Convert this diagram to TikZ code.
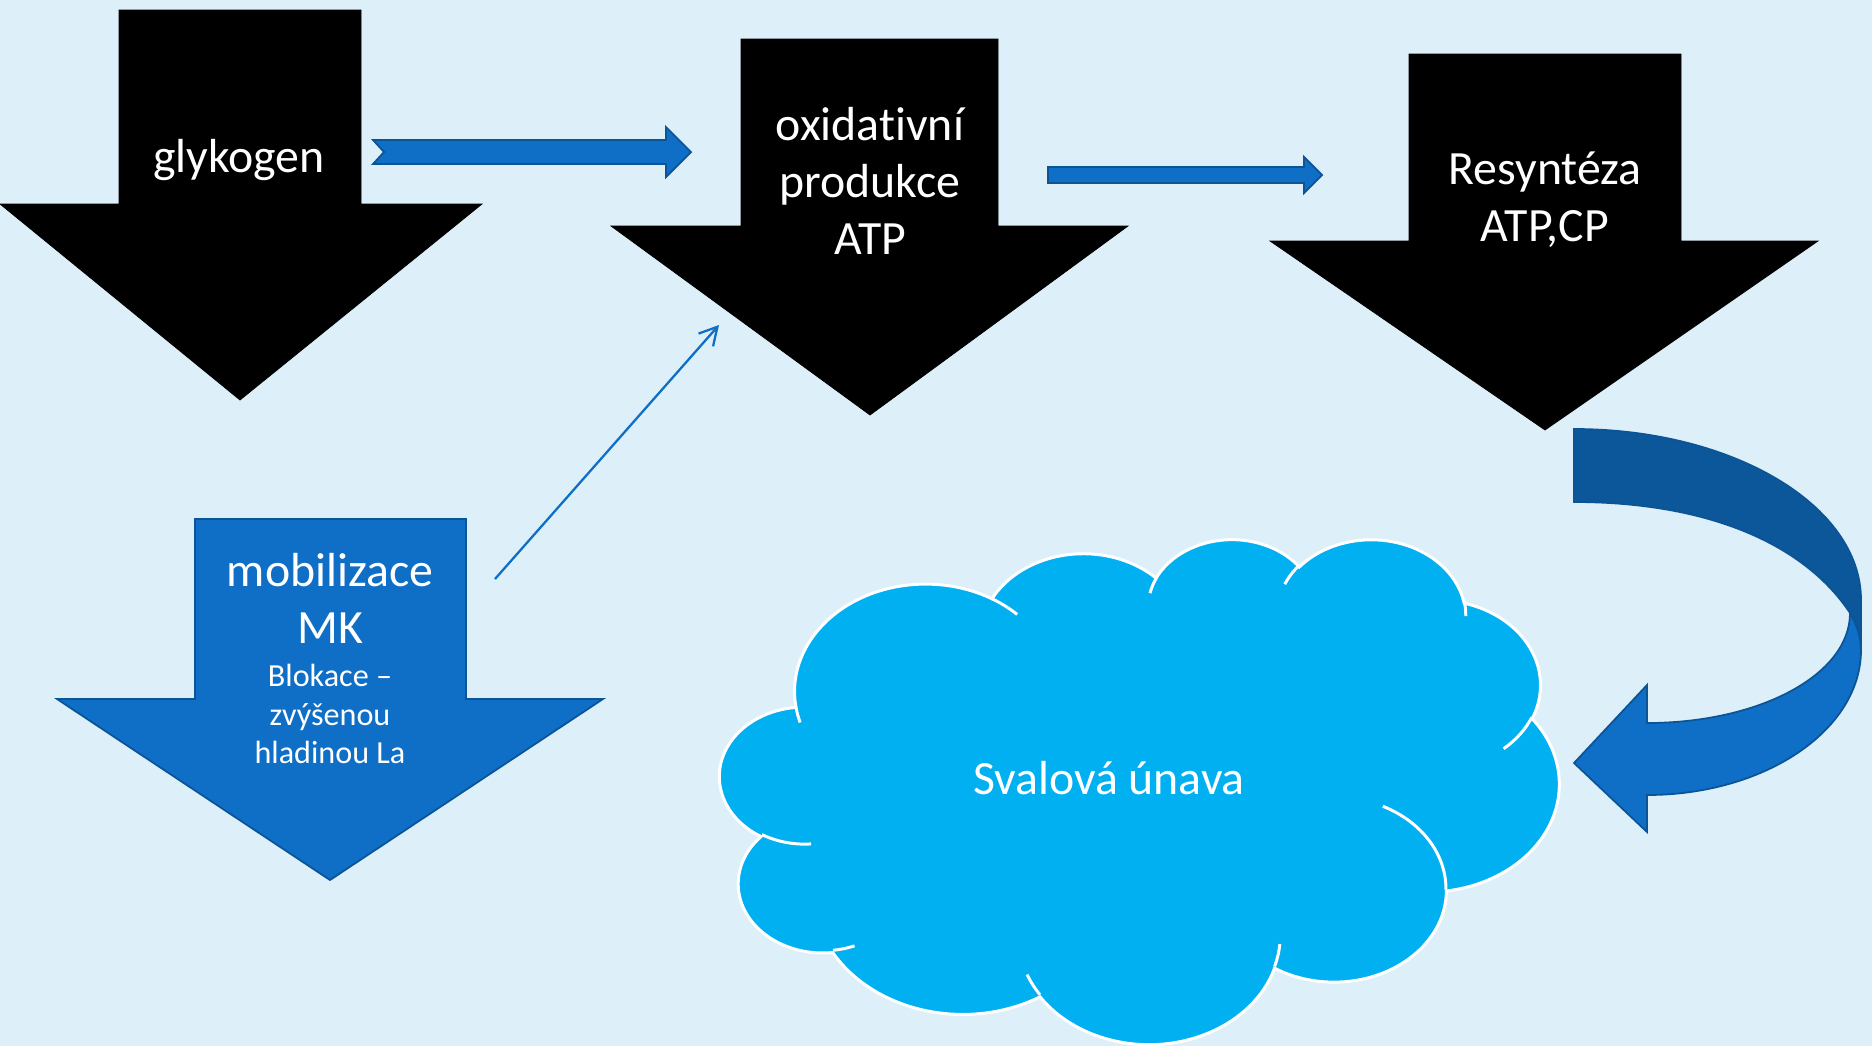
\documentclass[tikz,border=0pt]{standalone}
\usepackage{fontspec}
\setmainfont{Carlito}[Ligatures=NoCommon]
\usetikzlibrary{arrows.meta}
\definecolor{bgc}{RGB}{221,239,248}
\definecolor{accblue}{RGB}{15,111,198}
\definecolor{accline}{RGB}{11,84,150}
\definecolor{darkband}{RGB}{12,86,154}
\definecolor{cloudc}{RGB}{0,176,240}
\tikzset{
  blackarrow/.style={fill=black, draw=black, line width=0.4pt, line join=miter},
  bluearrow/.style={fill=accblue, draw=accline, line width=1pt, line join=miter},
  darkarrow/.style={fill=darkband, draw=accline, line width=1pt, line join=miter},
  bigtext/.style={text=white, font=\fontsize{27.2}{32.4}\selectfont, align=center, inner sep=0pt},
  smalltext/.style={text=white, font=\fontsize{18.3}{21.7}\selectfont, align=center, inner sep=0pt},
  cloudline/.style={draw=white, line width=1.7pt},
  thinarrow/.style={draw=accblue, line width=1.3pt, -{Straight Barb[length=10pt,width=11pt]}},
}
\newcommand{\ca}[4]{arc[start angle={atan2(#1*sin(#3),#2*cos(#3))}, delta angle={mod(atan2(#1*sin(#3+#4),#2*cos(#3+#4))-atan2(#1*sin(#3),#2*cos(#3))+720,360)}, x radius=#1, y radius=#2]}
\begin{document}
\begin{tikzpicture}[x=0.02cm,y=-0.02cm]
\fill[bgc] (0,0) rectangle (1872,1046);
\useasboundingbox (0,0) rectangle (1872,1046);

% black down arrows
\path[blackarrow] (119,10) -- (361,10) -- (361,204) -- (482,204) -- (240,400) -- (0,204) -- (119,204) -- cycle;
\path[blackarrow] (741,39) -- (998,39) -- (998,226) -- (1128,226) -- (870,415) -- (611,226) -- (741,226) -- cycle;
\path[blackarrow] (1409,54) -- (1681,54) -- (1681,241) -- (1818,241) -- (1545,430) -- (1270,241) -- (1409,241) -- cycle;

% blue down arrow
\path[bluearrow] (195,519) -- (466,519) -- (466,699) -- (603,699) -- (330,880) -- (57,699) -- (195,699) -- cycle;

% horizontal blue arrows
\path[bluearrow] (373,140) -- (666,140) -- (666,127) -- (691,152) -- (666,177) -- (666,164) -- (373,164) -- (384,152) -- cycle;
\path[bluearrow] (1048,167) -- (1304,167) -- (1304,157) -- (1322,175) -- (1304,193) -- (1304,183) -- (1048,183) -- cycle;

% curved arrow
\path[darkarrow] (1574,429) .. controls (1732,429) and (1861,505) .. (1861,600) -- (1861,650)
  .. controls (1861,638) and (1857,625) .. (1850,613)
  .. controls (1805,545) and (1710,502) .. (1574,502) -- cycle;
\path[bluearrow] (1850,613) .. controls (1857,625) and (1861,638) .. (1861,650)
  .. controls (1861,730) and (1765,795) .. (1647,795) -- (1647,832) -- (1574,763) -- (1647,685) -- (1647,723)
  .. controls (1759,723) and (1850,675) .. (1850,613) -- cycle;

% thin arrow
\coordinate (thinS) at (495,579);
\coordinate (thinE) at (719,325);
\draw[thinarrow] (thinS) -- (thinE);

% cloud
\begin{scope}[shift={(720,538)}, x=0.038843cm, y=-0.023380cm]
\path[fill=cloudc, cloudline] (39.00,143.70)
  \ca{67.53}{91.90}{-190.4875}{123.7805}
  \ca{53.33}{72.67}{-144.1024}{89.9452}
  \ca{43.65}{59.45}{-145.8079}{99.7230}
  \ca{48.57}{65.95}{-130.9861}{117.2417}
  \ca{53.33}{72.73}{-78.7089}{109.0269}
  \ca{67.75}{92.20}{-46.2673}{130.2690}
  \ca{57.85}{78.67}{0.6250}{114.0333}
  \ca{67.52}{92.15}{22.4516}{115.1726}
  \ca{77.20}{105.43}{66.2426}{75.7110}
  \ca{43.60}{59.18}{-274.9421}{146.7356}
  \ca{43.45}{59.45}{-246.8285}{152.5189}
  -- cycle;
\draw[cloudline] (46.93,261.77) \ca{43.45}{59.45}{86.7420}{26.4295}
  (69.28,348.99) \ca{43.60}{59.18}{73.6105}{11.4475}
  (164.78,390.90) \ca{67.52}{92.15}{137.6242}{14.0811}
  (288.27,347.51) \ca{67.52}{92.15}{6.4533}{15.9984}
  (341.29,229.54) \ca{57.85}{78.67}{-70.2924}{70.9174}
  (417.98,153.54) \ca{53.33}{72.73}{30.3180}{27.7515}
  (383.24,54.26) \ca{48.57}{65.95}{-13.7443}{14.8589}
  (290.78,39.52) \ca{48.57}{65.95}{-149.1815}{18.1954}
  (221.41,47.20) \ca{43.65}{59.45}{-163.4943}{17.6872}
  (140.00,51.92) \ca{67.53}{91.90}{-66.7070}{12.3194}
  (41.27,157.89) \ca{67.53}{91.90}{157.6544}{11.8582};
\end{scope}

% texts
\node[bigtext] (glyk) at (239,160) {glykogen};
\node[bigtext] (oxid) at (870,181) {oxidativní\\produkce\\ATP};
\node[bigtext] (resy) at (1545,200) {Resyntéza\\ATP,CP};
\node[bigtext] (mobi) at (330,598) {mobilizace\\MK};
\node[smalltext] (blok) at (330,714) {Blokace –\\zvýšenou\\hladinou La};
\node[bigtext] (unava) at (1109,778) {Svalová únava};
\end{tikzpicture}
\end{document}
